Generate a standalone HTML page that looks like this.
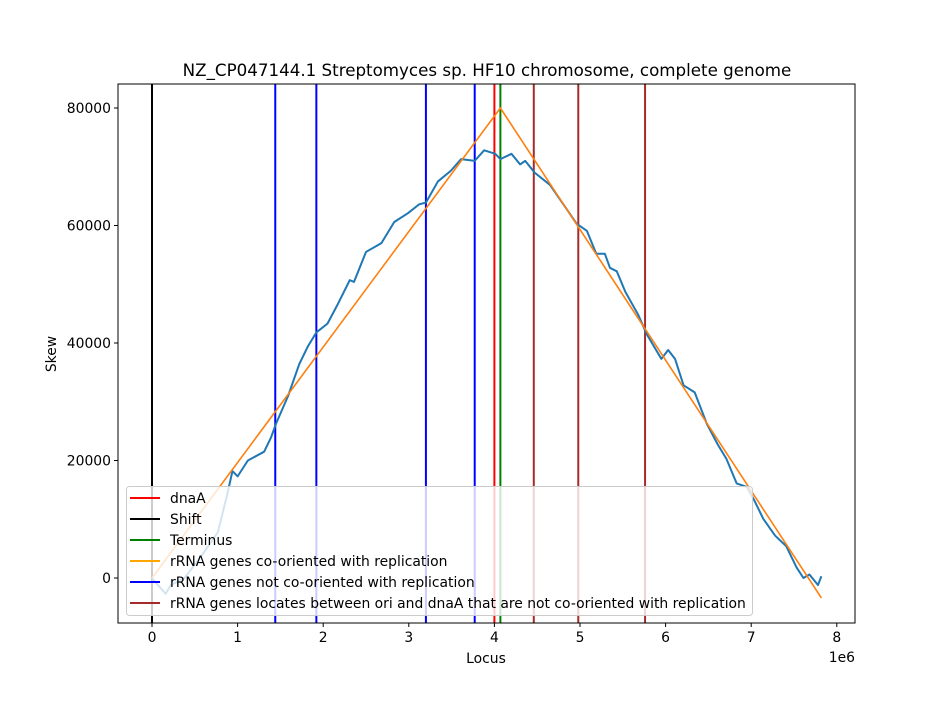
<!DOCTYPE html>
<html><head><meta charset="utf-8"><style>
body{margin:0;background:#fff}
svg text{font-family:"DejaVu Sans","Liberation Sans",sans-serif;fill:#000}
</style></head><body>
<svg id="chart" width="950" height="700" xmlns="http://www.w3.org/2000/svg">
<rect width="950" height="700" fill="#fff"/>
<text x="487" y="76" font-size="16.7" text-anchor="middle">NZ_CP047144.1 Streptomyces sp. HF10 chromosome, complete genome</text>
<text x="486" y="663" font-size="13.9" text-anchor="middle">Locus</text>
<text x="56" y="354" font-size="13.9" text-anchor="middle" transform="rotate(-90 56 354)">Skew</text>
<text x="855" y="662" font-size="13.9" text-anchor="end">1e6</text>
<g id="plot"></g>
</svg>
<script>
const skewX=[0,0.07,0.16,0.22,0.38,0.57,0.77,0.88,0.94,1.00,1.12,1.31,1.39,1.45,1.59,1.72,1.82,1.92,2.05,2.17,2.31,2.36,2.50,2.68,2.83,2.99,3.12,3.20,3.34,3.49,3.61,3.77,3.88,4.01,4.07,4.20,4.30,4.36,4.47,4.65,4.82,4.96,5.08,5.19,5.29,5.35,5.43,5.53,5.68,5.78,5.95,6.03,6.11,6.21,6.34,6.48,6.61,6.71,6.83,6.95,7.04,7.14,7.28,7.41,7.53,7.61,7.68,7.78,7.82];
const skewY=[0,-1200,-2700,-1200,0,3600,7800,14300,18200,17300,20000,21500,23900,26300,31000,36400,39400,41800,43300,46600,50700,50400,55500,57000,60600,62100,63600,63900,67500,69300,71300,71000,72800,72200,71300,72200,70400,71000,69000,66900,63300,60300,59100,55200,55200,52800,52200,48700,44800,41500,37300,38800,37300,32800,31600,26300,22700,20300,16100,15500,13100,10100,7200,5400,1800,0,600,-1200,300];
const fitX=[0,4.07,7.82];
const fitY=[0,80000,-3400];
const dnaA=[4.00];
const shift=[0];
const terminus=[4.07];
const notCo=[1.44,1.92,3.20,3.77];
const between=[4.46,4.98,5.76];
const xTicks=[0,1,2,3,4,5,6,7,8];
const yTicks=[0,20000,40000,60000,80000];

const L=118,R=855,T=84,B=623;
const X=v=>152+v*85.6;
const Y=s=>578-s*0.005875;
const NS="http://www.w3.org/2000/svg";
const g=document.getElementById('plot');
function mk(tag,at,parent){const e=document.createElementNS(NS,tag);for(const k in at)e.setAttribute(k,at[k]);(parent||g).appendChild(e);return e;}

const clip=mk('clipPath',{id:'clp'});mk('rect',{x:L,y:T,width:R-L,height:B-T},clip);
const data=mk('g',{'clip-path':'url(#clp)'});

function vlines(arr,color,name){arr.forEach(v=>{const l=mk('line',{x1:X(v),x2:X(v),y1:T,y2:B,stroke:color,'stroke-width':2},data);

});}
vlines(shift,'#000000','shift-line');
vlines(notCo,'#0000ff','rrna-not-co-oriented-line');
vlines(dnaA,'#ff0000','dnaa-line');
vlines(terminus,'#008000','terminus-line');
vlines(between,'#a52a2a','rrna-between-line');

const sk=mk('polyline',{points:skewX.map((v,i)=>X(v)+','+Y(skewY[i])).join(' '),fill:'none',stroke:'#1f77b4','stroke-width':2,'stroke-linejoin':'round'},data);


const ft=mk('polyline',{points:fitX.map((v,i)=>X(v)+','+Y(fitY[i])).join(' '),fill:'none',stroke:'#ff7f0e','stroke-width':1.6},data);



const fr=mk('rect',{x:L,y:T,width:R-L,height:B-T,fill:'none',stroke:'#000','stroke-width':1});



xTicks.forEach(t=>{mk('line',{x1:X(t),x2:X(t),y1:B,y2:B+4,stroke:'#000'});
const tx=mk('text',{x:X(t),y:B+19,'font-size':13.9,'text-anchor':'middle'});tx.textContent=t;

});
yTicks.forEach(t=>{mk('line',{x1:L-4,x2:L,y1:Y(t),y2:Y(t),stroke:'#000'});
const tx=mk('text',{x:L-7,y:Y(t)+5,'font-size':13.9,'text-anchor':'end'});tx.textContent=t;

});

const lg=mk('g',{});


mk('rect',{x:126.5,y:486.5,width:626,height:129,rx:3,fill:'rgba(255,255,255,0.8)',stroke:'#ccc'},lg);
const entries=[['#ff0000','dnaA'],['#000000','Shift'],['#008000','Terminus'],['#ffa500','rRNA genes co-oriented with replication'],['#0000ff','rRNA genes not co-oriented with replication'],['#a52a2a','rRNA genes locates between ori and dnaA that are not co-oriented with replication']];
entries.forEach((e,i)=>{const y=498+i*21;
const eg=mk('g',{},lg);


mk('line',{x1:130,x2:160,y1:y,y2:y,stroke:e[0],'stroke-width':2},eg);
const t=mk('text',{x:170,y:y+5,'font-size':13.9},eg);t.textContent=e[1];});
</script>
</body></html>
